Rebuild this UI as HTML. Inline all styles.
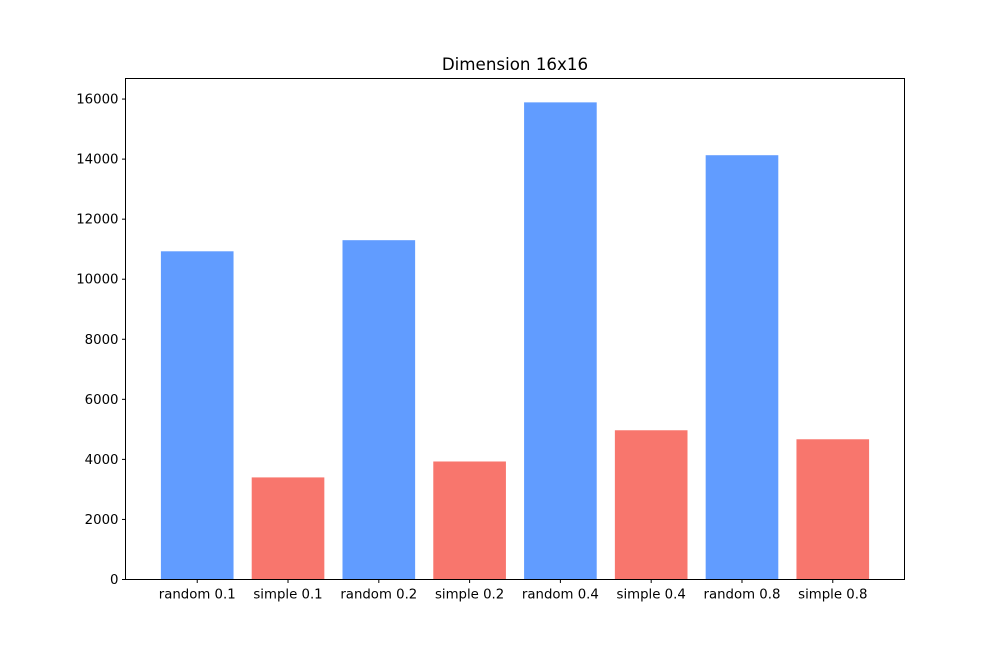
<!DOCTYPE html>
<html><head><meta charset="utf-8"><style>
html,body{margin:0;padding:0;background:#fff;}
svg text{font-family:"DejaVu Sans","Liberation Sans",sans-serif;}
</style></head><body>
<svg id="chart" width="1003" height="651" xmlns="http://www.w3.org/2000/svg">
<rect width="1003" height="651" fill="#fff"/>
<text x="515" y="70" font-size="16.7" text-anchor="middle">Dimension 16x16</text>
<g id="bars"></g>
<g id="yticks"></g>
<g id="xticks"></g>
<rect x="125.5" y="78.5" width="779" height="501" fill="none" stroke="#000" stroke-width="1"/>
</svg>
<script>
const categories = ["random 0.1","simple 0.1","random 0.2","simple 0.2","random 0.4","simple 0.4","random 0.8","simple 0.8"];
const values = [10930, 3400, 11300, 3930, 15890, 4970, 14130, 4670];
const barColors = ["#619CFF","#F8766D","#619CFF","#F8766D","#619CFF","#F8766D","#619CFF","#F8766D"];
const yTicks = [0,2000,4000,6000,8000,10000,12000,14000,16000];

const NS="http://www.w3.org/2000/svg";
const L=125.5,R=904.5,T=78.5,B=579.5;
const yMax=Math.max(...values)*1.05;
const xMin=-0.4-0.05*(categories.length-0.2), xMax=categories.length-1+0.4+0.05*(categories.length-0.2);
function xs(v){return L+(v-xMin)/(xMax-xMin)*(R-L);}
function ys(v){return B-v/yMax*(B-T);}
function mk(tag,attrs,parent){const e=document.createElementNS(NS,tag);for(const k in attrs)e.setAttribute(k,attrs[k]);parent.appendChild(e);return e;}
const gb=document.getElementById('bars'),gy=document.getElementById('yticks'),gx=document.getElementById('xticks');
categories.forEach((c,i)=>{
  const x0=xs(i-0.4),x1=xs(i+0.4);
  const r=mk('rect',{x:x0,y:ys(values[i]),width:x1-x0,height:B-ys(values[i]),fill:barColors[i]},gb);
  
  
  const t=mk('line',{x1:xs(i),x2:xs(i),y1:B,y2:B+3.5,stroke:'#000'},gx);
  
  
  const tx=mk('text',{x:xs(i),y:B+19,'font-size':13.3,'text-anchor':'middle'},gx);
  tx.textContent=c;
  
  
});
yTicks.forEach(v=>{
  const y=ys(v);
  const t=mk('line',{x1:L-3.5,x2:L,y1:y,y2:y,stroke:'#000'},gy);
  
  
  const tx=mk('text',{x:L-7,y:y+4.5,'font-size':13.3,'text-anchor':'end'},gy);
  tx.textContent=v;
  
  
});
</script>
</body></html>
